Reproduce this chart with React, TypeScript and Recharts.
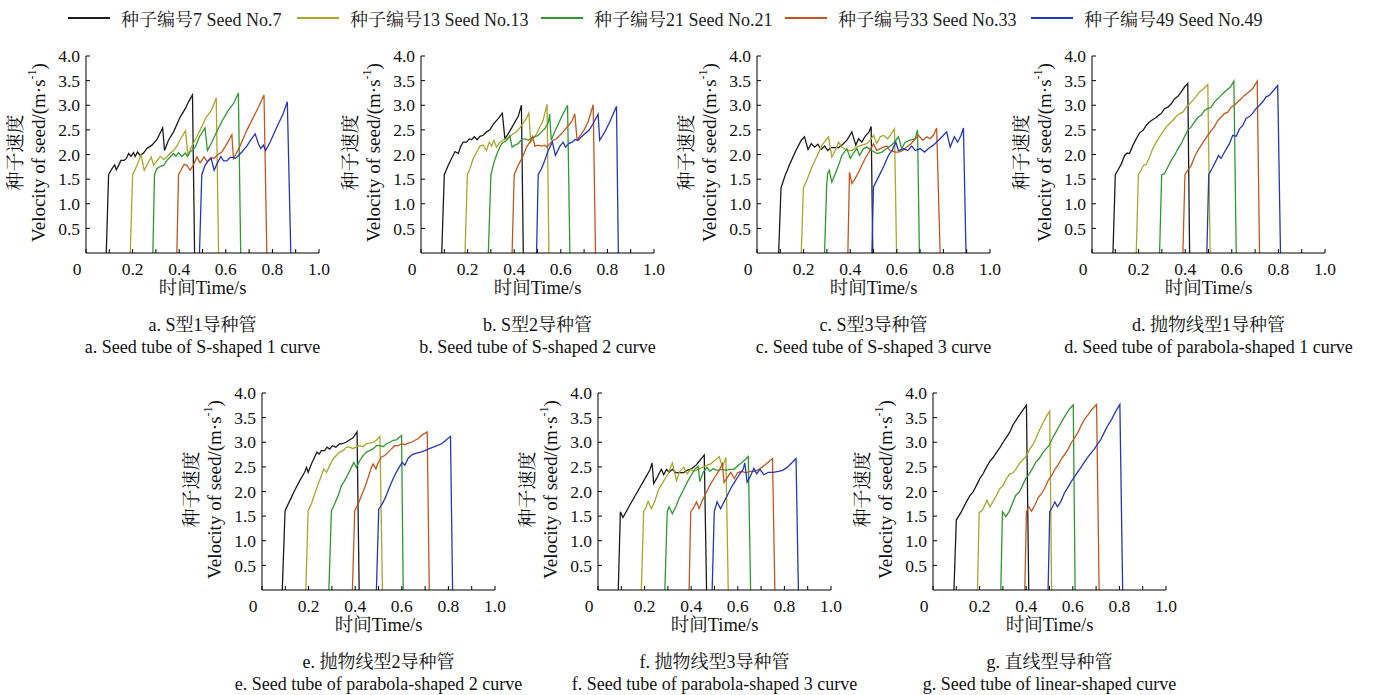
import { LineChart, Line, XAxis, YAxis } from 'recharts';

type P = [number, number];

const seedNames = ['种子编号7 Seed No.7', '种子编号13 Seed No.13', '种子编号21 Seed No.21', '种子编号33 Seed No.33', '种子编号49 Seed No.49'];
const seedColors = ['#1b1b1b', '#a9a62b', '#2f982f', '#c1571f', '#2536bb'];

const xTicks = [0, 0.1, 0.2, 0.3, 0.4, 0.5, 0.6, 0.7, 0.8, 0.9, 1.0];
const yTicks = [0.5, 1.0, 1.5, 2.0, 2.5, 3.0, 3.5, 4.0];

// a. S型1
const a7: P[] = [[.087,0],[.097,1.59],[.111,1.71],[.123,1.79],[.13,1.69],[.141,1.79],[.15,1.88],[.164,1.88],[.173,1.92],[.183,2.02],[.193,1.96],[.204,2.04],[.211,1.96],[.221,2.05],[.233,1.98],[.247,2.03],[.261,2.12],[.283,2.19],[.304,2.3],[.329,2.54],[.337,2.08],[.354,2.29],[.376,2.46],[.404,2.76],[.426,2.93],[.44,3.07],[.457,3.21],[.466,0]];
const a13: P[] = [[.19,0],[.2,1.59],[.219,1.78],[.236,2.0],[.25,1.68],[.261,1.78],[.28,1.95],[.29,1.78],[.304,1.87],[.319,1.96],[.333,1.9],[.347,1.95],[.361,2.03],[.376,2.08],[.39,2.17],[.404,2.3],[.427,2.48],[.437,1.98],[.454,2.17],[.476,2.36],[.497,2.57],[.516,2.76],[.533,2.86],[.544,2.96],[.559,3.15],[.569,0]];
const a21: P[] = [[.287,0],[.294,1.59],[.304,1.71],[.319,1.76],[.333,1.78],[.347,1.88],[.361,1.95],[.376,2.02],[.386,1.96],[.397,2.04],[.411,1.96],[.426,2.03],[.436,1.96],[.447,2.05],[.469,2.15],[.487,2.36],[.511,2.54],[.521,2.08],[.54,2.25],[.561,2.46],[.583,2.67],[.611,2.9],[.633,3.03],[.654,3.25],[.664,0]];
const a33: P[] = [[.39,0],[.397,1.59],[.411,1.71],[.421,1.8],[.433,1.78],[.447,1.68],[.461,1.79],[.476,1.95],[.49,1.83],[.507,1.95],[.521,1.85],[.536,1.94],[.55,1.92],[.561,1.98],[.583,2.05],[.604,2.21],[.626,2.4],[.633,1.92],[.659,2.15],[.69,2.49],[.719,2.76],[.74,2.96],[.764,3.21],[.776,0]];
const a49: P[] = [[.487,0],[.497,1.59],[.511,1.78],[.526,1.88],[.537,1.92],[.55,1.68],[.564,1.83],[.579,1.96],[.59,1.87],[.604,1.87],[.619,1.94],[.633,1.94],[.64,1.92],[.65,1.96],[.669,2.05],[.69,2.17],[.711,2.32],[.726,2.42],[.74,2.22],[.75,2.12],[.761,2.19],[.771,2.08],[.79,2.25],[.819,2.56],[.844,2.8],[.864,3.07],[.879,0]];

// b. S型2
const b7: P[] = [[.089,0],[.1,1.59],[.117,1.78],[.131,1.92],[.146,2.06],[.16,2.02],[.171,2.17],[.181,2.25],[.196,2.25],[.207,2.32],[.217,2.3],[.229,2.36],[.241,2.3],[.253,2.37],[.267,2.39],[.281,2.46],[.296,2.5],[.31,2.61],[.331,2.73],[.349,2.84],[.36,2.32],[.374,2.42],[.389,2.54],[.403,2.66],[.417,2.77],[.431,3.0],[.439,0]];
const b13: P[] = [[.189,0],[.199,1.59],[.21,1.71],[.224,1.92],[.239,2.05],[.253,2.17],[.267,2.19],[.281,2.08],[.293,2.25],[.303,2.17],[.313,2.29],[.324,2.15],[.339,2.25],[.353,2.3],[.367,2.32],[.381,2.36],[.396,2.42],[.41,2.46],[.424,2.54],[.439,2.64],[.453,2.74],[.463,2.84],[.471,2.25],[.481,2.32],[.496,2.42],[.51,2.56],[.524,2.69],[.541,3.02],[.549,0]];
const b21: P[] = [[.289,0],[.3,1.59],[.314,1.85],[.329,2.05],[.346,2.22],[.367,2.29],[.381,2.38],[.391,2.15],[.403,2.19],[.417,2.22],[.431,2.3],[.446,2.32],[.46,2.29],[.474,2.34],[.489,2.36],[.503,2.39],[.517,2.46],[.531,2.52],[.546,2.64],[.552,2.82],[.559,2.29],[.574,2.46],[.596,2.69],[.61,2.83],[.629,3.0],[.639,0]];
const b33: P[] = [[.391,0],[.4,1.59],[.417,1.78],[.436,1.95],[.453,2.15],[.467,2.25],[.479,2.37],[.489,2.17],[.503,2.19],[.517,2.17],[.531,2.19],[.541,2.15],[.553,2.22],[.567,2.29],[.581,2.32],[.596,2.39],[.61,2.46],[.627,2.56],[.646,2.66],[.66,2.82],[.67,2.3],[.684,2.39],[.699,2.49],[.717,2.66],[.739,3.01],[.749,0]];
const b49: P[] = [[.496,0],[.503,1.59],[.517,1.71],[.531,1.88],[.546,2.08],[.564,2.25],[.577,1.98],[.596,2.17],[.61,2.25],[.62,2.15],[.634,2.22],[.649,2.25],[.66,2.3],[.674,2.29],[.689,2.36],[.703,2.42],[.721,2.49],[.739,2.63],[.76,2.82],[.767,2.29],[.789,2.46],[.81,2.66],[.839,2.98],[.847,0]];

// c. S型3
const c7: P[] = [[.093,0],[.103,1.32],[.121,1.58],[.143,1.83],[.164,2.05],[.19,2.29],[.204,2.36],[.219,2.1],[.233,2.22],[.247,2.15],[.261,2.21],[.276,2.1],[.29,2.17],[.304,2.08],[.319,2.14],[.336,2.14],[.35,2.14],[.364,2.19],[.386,2.29],[.407,2.46],[.424,2.19],[.436,2.32],[.45,2.25],[.464,2.37],[.481,2.46],[.49,2.57],[.497,0]];
const c13: P[] = [[.19,0],[.199,1.32],[.214,1.48],[.236,1.75],[.257,1.96],[.279,2.19],[.307,2.36],[.321,1.95],[.336,2.08],[.35,2.25],[.364,2.15],[.379,2.1],[.393,2.08],[.407,2.08],[.429,2.15],[.45,2.19],[.471,2.22],[.486,2.29],[.5,2.39],[.514,2.22],[.529,2.36],[.543,2.39],[.561,2.32],[.576,2.42],[.59,2.52],[.599,0]];
const c21: P[] = [[.29,0],[.299,1.37],[.303,1.61],[.31,1.68],[.321,1.44],[.336,1.61],[.35,1.78],[.364,1.98],[.386,2.12],[.4,1.92],[.414,2.03],[.429,2.12],[.44,1.98],[.457,2.12],[.471,2.15],[.493,2.08],[.514,2.02],[.536,2.05],[.557,2.12],[.571,2.17],[.59,2.25],[.607,2.36],[.621,2.12],[.636,2.25],[.657,2.29],[.679,2.32],[.689,2.5],[.697,0]];
const c33: P[] = [[.39,0],[.397,1.64],[.407,1.41],[.421,1.51],[.436,1.64],[.45,1.78],[.464,1.92],[.481,2.05],[.5,2.22],[.514,2.08],[.529,2.12],[.543,2.15],[.557,2.17],[.571,2.08],[.593,2.05],[.607,2.05],[.624,2.08],[.643,2.15],[.661,2.22],[.676,2.3],[.693,2.39],[.711,2.29],[.729,2.36],[.743,2.32],[.757,2.39],[.771,2.54],[.786,0]];
const c49: P[] = [[.493,0],[.5,1.34],[.521,1.54],[.543,1.75],[.564,1.98],[.579,2.08],[.596,2.25],[.607,2.08],[.629,2.12],[.647,2.08],[.664,2.17],[.679,2.08],[.7,2.12],[.719,2.05],[.736,2.12],[.757,2.19],[.779,2.29],[.8,2.39],[.814,2.46],[.829,2.15],[.847,2.36],[.861,2.25],[.876,2.39],[.886,2.54],[.897,0]];

// d. 抛物线型1
const d7: P[] = [[.09,0],[.1,1.59],[.111,1.68],[.126,1.81],[.14,1.98],[.151,2.03],[.161,2.02],[.176,2.19],[.19,2.32],[.204,2.44],[.219,2.49],[.233,2.59],[.247,2.66],[.261,2.71],[.276,2.75],[.287,2.8],[.297,2.83],[.311,2.93],[.326,2.96],[.34,3.03],[.354,3.13],[.369,3.18],[.383,3.27],[.397,3.37],[.411,3.44],[.419,0]];
const d13: P[] = [[.19,0],[.199,1.59],[.211,1.68],[.221,1.78],[.233,1.8],[.247,1.95],[.261,2.12],[.276,2.25],[.29,2.36],[.304,2.46],[.319,2.56],[.333,2.63],[.347,2.69],[.361,2.77],[.376,2.83],[.39,2.86],[.404,2.96],[.419,3.03],[.433,3.1],[.447,3.18],[.461,3.27],[.476,3.32],[.497,3.42],[.507,0]];
const d21: P[] = [[.29,0],[.299,1.59],[.311,1.61],[.326,1.75],[.34,1.88],[.354,1.98],[.369,2.12],[.383,2.22],[.397,2.36],[.411,2.49],[.426,2.56],[.44,2.66],[.454,2.75],[.469,2.8],[.483,2.9],[.497,2.93],[.511,2.96],[.526,3.07],[.54,3.13],[.554,3.2],[.576,3.3],[.594,3.37],[.609,3.49],[.619,0]];
const d33: P[] = [[.39,0],[.399,1.59],[.411,1.68],[.426,1.78],[.44,1.95],[.454,2.08],[.469,2.19],[.483,2.29],[.497,2.39],[.511,2.48],[.526,2.57],[.54,2.69],[.554,2.76],[.569,2.83],[.583,2.86],[.597,2.96],[.611,3.0],[.626,3.07],[.64,3.13],[.654,3.2],[.673,3.27],[.69,3.34],[.709,3.49],[.719,0]];
const d49: P[] = [[.493,0],[.501,1.59],[.519,1.75],[.533,1.88],[.543,1.98],[.554,1.92],[.569,2.05],[.59,2.22],[.604,2.39],[.619,2.37],[.633,2.52],[.647,2.59],[.661,2.73],[.676,2.77],[.69,2.84],[.704,2.93],[.719,3.0],[.733,3.07],[.747,3.17],[.761,3.2],[.779,3.3],[.797,3.4],[.809,0]];

// e. 抛物线型2
const e7: P[] = [[.087,0],[.099,1.61],[.119,1.81],[.14,2.02],[.162,2.22],[.183,2.39],[.191,2.49],[.198,2.39],[.212,2.56],[.226,2.7],[.236,2.8],[.245,2.76],[.255,2.83],[.269,2.83],[.279,2.9],[.291,2.86],[.302,2.93],[.317,2.9],[.331,2.96],[.345,2.97],[.36,3.0],[.377,3.05],[.391,3.09],[.408,3.21],[.417,0]];
const e13: P[] = [[.188,0],[.198,1.61],[.212,1.75],[.226,1.95],[.241,2.15],[.255,2.32],[.265,2.46],[.277,2.39],[.291,2.53],[.305,2.66],[.319,2.73],[.334,2.8],[.348,2.83],[.362,2.9],[.377,2.9],[.391,2.87],[.405,2.91],[.42,2.93],[.434,2.91],[.448,2.97],[.463,2.98],[.477,3.0],[.491,3.04],[.506,3.12],[.517,0]];
const e21: P[] = [[.287,0],[.298,1.61],[.312,1.75],[.327,1.92],[.341,2.12],[.355,2.22],[.37,2.36],[.384,2.49],[.394,2.59],[.405,2.49],[.42,2.63],[.434,2.73],[.448,2.8],[.463,2.83],[.477,2.87],[.491,2.93],[.506,2.93],[.52,2.91],[.534,2.97],[.549,3.0],[.563,3.04],[.577,3.05],[.599,3.14],[.606,0]];
const e33: P[] = [[.388,0],[.398,1.61],[.413,1.75],[.427,1.92],[.441,2.08],[.456,2.29],[.47,2.49],[.477,2.56],[.489,2.46],[.499,2.59],[.513,2.7],[.527,2.73],[.542,2.8],[.556,2.87],[.57,2.93],[.585,2.93],[.599,2.97],[.613,2.95],[.628,2.98],[.642,3.0],[.656,3.04],[.67,3.07],[.685,3.14],[.709,3.21],[.718,0]];
const e49: P[] = [[.491,0],[.501,1.64],[.516,1.75],[.53,1.88],[.544,2.05],[.559,2.22],[.573,2.36],[.587,2.48],[.602,2.59],[.613,2.53],[.628,2.68],[.645,2.75],[.663,2.78],[.681,2.8],[.699,2.83],[.718,2.87],[.735,2.9],[.752,2.93],[.771,2.97],[.789,3.04],[.809,3.12],[.818,0]];

// f. 抛物线型3
const f7: P[] = [[.087,0],[.096,1.59],[.107,1.47],[.136,1.72],[.165,1.96],[.193,2.19],[.222,2.43],[.232,2.58],[.239,2.16],[.251,2.26],[.265,2.39],[.272,2.45],[.282,2.34],[.294,2.45],[.305,2.39],[.319,2.45],[.334,2.38],[.351,2.39],[.365,2.38],[.383,2.43],[.401,2.46],[.42,2.53],[.437,2.63],[.456,2.74],[.466,0]];
const f13: P[] = [[.186,0],[.196,1.59],[.205,1.67],[.215,1.8],[.229,1.65],[.244,1.8],[.258,2.02],[.279,2.19],[.301,2.36],[.319,2.58],[.337,2.22],[.351,2.41],[.368,2.49],[.383,2.36],[.397,2.45],[.411,2.41],[.43,2.45],[.448,2.49],[.466,2.53],[.483,2.56],[.501,2.63],[.52,2.71],[.534,2.5],[.549,2.69],[.559,0]];
const f21: P[] = [[.287,0],[.297,1.59],[.305,1.69],[.319,1.55],[.334,1.69],[.348,1.86],[.365,2.02],[.383,2.19],[.401,2.34],[.415,2.45],[.43,2.51],[.437,2.2],[.451,2.39],[.468,2.49],[.48,2.41],[.494,2.46],[.511,2.43],[.53,2.45],[.549,2.43],[.566,2.45],[.583,2.45],[.602,2.53],[.623,2.61],[.645,2.71],[.655,0]];
const f33: P[] = [[.391,0],[.398,1.59],[.408,1.65],[.423,1.79],[.434,1.65],[.448,1.82],[.466,1.99],[.484,2.16],[.501,2.29],[.52,2.43],[.534,2.56],[.541,2.18],[.556,2.29],[.57,2.39],[.585,2.26],[.599,2.38],[.616,2.41],[.635,2.38],[.652,2.41],[.673,2.41],[.695,2.46],[.716,2.54],[.749,2.67],[.759,0]];
const f49: P[] = [[.49,0],[.499,1.59],[.511,1.79],[.526,1.65],[.544,1.82],[.559,1.96],[.573,2.09],[.59,2.22],[.609,2.36],[.623,2.45],[.63,2.58],[.64,2.19],[.655,2.32],[.669,2.47],[.681,2.36],[.695,2.45],[.712,2.34],[.731,2.39],[.752,2.39],[.774,2.41],[.792,2.43],[.812,2.49],[.831,2.58],[.85,2.67],[.86,0]];

// g. 直线型
const g7: P[] = [[.09,0],[.1,1.42],[.122,1.59],[.143,1.79],[.158,1.91],[.172,1.99],[.186,2.12],[.201,2.26],[.215,2.36],[.229,2.49],[.244,2.61],[.258,2.69],[.272,2.79],[.287,2.89],[.301,3.0],[.315,3.1],[.33,3.21],[.344,3.36],[.358,3.46],[.372,3.56],[.387,3.66],[.401,3.75],[.411,0]];
const g13: P[] = [[.191,0],[.198,1.57],[.212,1.62],[.222,1.72],[.232,1.82],[.244,1.69],[.258,1.8],[.272,1.92],[.287,2.06],[.301,2.12],[.315,2.26],[.33,2.36],[.344,2.38],[.358,2.47],[.372,2.58],[.387,2.65],[.401,2.73],[.415,2.86],[.43,2.96],[.444,3.1],[.458,3.26],[.473,3.4],[.487,3.53],[.501,3.63],[.509,0]];
const g21: P[] = [[.291,0],[.298,1.59],[.312,1.49],[.327,1.59],[.341,1.76],[.355,1.92],[.37,1.99],[.384,2.12],[.398,2.26],[.413,2.36],[.427,2.47],[.441,2.59],[.456,2.67],[.47,2.78],[.484,2.86],[.499,2.94],[.513,3.08],[.527,3.2],[.542,3.33],[.556,3.45],[.57,3.56],[.587,3.68],[.602,3.76],[.61,0]];
const g33: P[] = [[.394,0],[.401,1.59],[.411,1.69],[.423,1.6],[.437,1.72],[.451,1.87],[.466,1.96],[.48,2.07],[.494,2.22],[.509,2.32],[.523,2.45],[.537,2.54],[.552,2.67],[.566,2.76],[.58,2.86],[.595,3.0],[.609,3.1],[.623,3.21],[.638,3.36],[.652,3.48],[.666,3.56],[.681,3.66],[.702,3.77],[.713,0]];
const g49: P[] = [[.494,0],[.501,1.59],[.513,1.69],[.523,1.79],[.534,1.69],[.549,1.8],[.563,1.96],[.577,2.07],[.592,2.19],[.606,2.29],[.62,2.39],[.635,2.49],[.649,2.59],[.663,2.69],[.678,2.78],[.692,2.86],[.706,2.96],[.721,3.06],[.735,3.2],[.749,3.33],[.766,3.46],[.781,3.6],[.802,3.77],[.814,0]];

const captionsCn = ['a. S型1导种管', 'b. S型2导种管', 'c. S型3导种管', 'd. 抛物线型1导种管', 'e. 抛物线型2导种管', 'f. 抛物线型3导种管', 'g. 直线型导种管'];
const captionsEn = [
  'a. Seed tube of S-shaped 1 curve',
  'b. Seed tube of S-shaped 2 curve',
  'c. Seed tube of S-shaped 3 curve',
  'd. Seed tube of parabola-shaped 1 curve',
  'e. Seed tube of parabola-shaped 2 curve',
  'f. Seed tube of parabola-shaped 3 curve',
  'g. Seed tube of linear-shaped curve',
];

const panels: P[][][] = [
  [a7, a13, a21, a33, a49],
  [b7, b13, b21, b33, b49],
  [c7, c13, c21, c33, c49],
  [d7, d13, d21, d33, d49],
  [e7, e13, e21, e33, e49],
  [f7, f13, f21, f33, f49],
  [g7, g13, g21, g33, g49],
];

// plot-area top-left of each panel on the page
const plotPos = [
  [86, 56], [421, 56], [757, 56], [1092, 56],
  [262, 393], [598, 393], [933, 393],
];

const legendX = [68, 297, 541, 785, 1031];

const FONT = "'Liberation Serif', 'Noto Serif CJK SC', serif";
const YW = 80;
const TOP = 16;
const PW = 233;
const PH = 197;
const CW = 360;
const CH = 330;

const toPts = (arr: P[]) => arr.map(([t, v]) => ({ t, v }));

function XTick(props: any) {
  const { x, y, payload } = props;
  const v = payload.value;
  if (Math.round(v * 10) % 2 !== 0) return <g />;
  return (
    <text x={v === 0 ? x - 9 : x} y={y} dy="0.71em" textAnchor="middle" fontSize={17.5} fill="#111" fontFamily={FONT}>
      {v === 0 ? '0' : v.toFixed(1)}
    </text>
  );
}

function Panel({ idx }: { idx: number }) {
  const [px, py] = plotPos[idx];
  return (
    <div style={{ position: 'absolute', left: px - YW, top: py - TOP }}>
      <LineChart width={CW} height={CH} margin={{ top: TOP, right: CW - YW - PW, bottom: CH - TOP - PH - 30, left: 0 }}>
        <XAxis
          type="number"
          dataKey="t"
          domain={[0, 1]}
          ticks={xTicks}
          interval={0}
          allowDataOverflow
          height={30}
          stroke="#000"
          tickSize={-4}
          tickMargin={14}
          tick={<XTick />}
          label={(p: any) => {
            const { x, y, width } = p.viewBox;
            const cx = x + width / 2;
            return (
              <g fontFamily={FONT} fill="#111" textAnchor="middle">
                <text x={cx} y={y + 35} dominantBaseline="central" fontSize={18.5}>时间Time/s</text>
                <text x={cx} y={y + 72} dominantBaseline="central" fontSize={18}>{captionsCn[idx]}</text>
                <text x={cx} y={y + 94} dominantBaseline="central" fontSize={18}>{captionsEn[idx]}</text>
              </g>
            );
          }}
        />
        <YAxis
          type="number"
          domain={[0, 4]}
          ticks={yTicks}
          interval={0}
          width={YW}
          stroke="#000"
          tickSize={-4}
          tickMargin={10}
          tickFormatter={(v: number) => v.toFixed(1)}
          tick={{ fontSize: 17.5, fill: '#111', fontFamily: FONT }}
          label={(p: any) => {
            const { x, y, height } = p.viewBox;
            const cy = y + height / 2 - 2;
            const x1 = x + 9;
            const x2 = x + 32;
            return (
              <g fontFamily={FONT} fill="#111" fontSize={19} textAnchor="middle">
                <text x={x1} y={cy} dominantBaseline="central" transform={`rotate(-90, ${x1}, ${cy})`}>种子速度</text>
                <text x={x2} y={cy} dominantBaseline="central" transform={`rotate(-90, ${x2}, ${cy})`}>
                  Velocity of seed/(m·s<tspan dy={-6} fontSize={12}>-1</tspan><tspan dy={6}>)</tspan>
                </text>
              </g>
            );
          }}
        />
        {panels[idx].map((s, i) => (
          <Line
            key={i}
            data={toPts(s)}
            dataKey="v"
            type="linear"
            stroke={seedColors[i]}
            strokeWidth={1.3}
            dot={false}
            activeDot={false}
            isAnimationActive={false}
          />
        ))}
      </LineChart>
    </div>
  );
}

export default function App() {
  return (
    <div style={{ position: 'absolute', left: 0, top: 0, width: 1374, height: 695, background: '#fff', fontFamily: FONT }}>
      {seedNames.map((name, i) => (
        <div key={name} style={{ position: 'absolute', left: legendX[i], top: 5, display: 'flex', alignItems: 'center', fontSize: 18, color: '#222', whiteSpace: 'nowrap' }}>
          <span style={{ display: 'inline-block', width: 42, height: 2, background: seedColors[i], marginRight: 11 }} />
          <span>{name}</span>
        </div>
      ))}
      {panels.map((_, idx) => (
        <Panel key={idx} idx={idx} />
      ))}
    </div>
  );
}
